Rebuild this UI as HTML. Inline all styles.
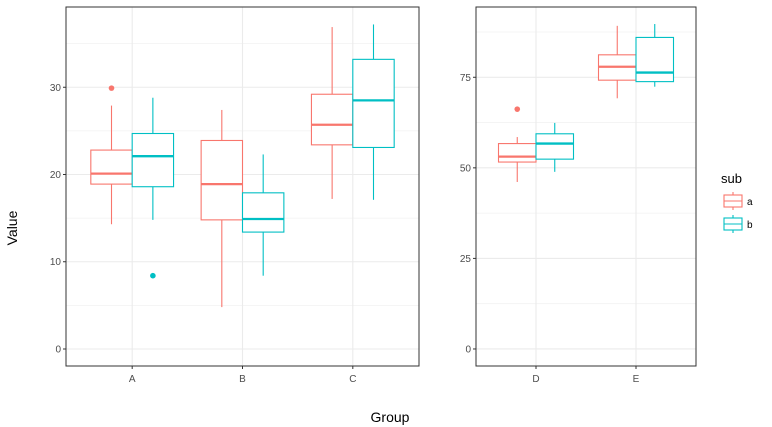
<!DOCTYPE html>
<html><head><meta charset="utf-8"><style>
body{margin:0;background:#fff;font-family:"Liberation Sans",sans-serif}
svg{display:block}
</style></head><body>
<svg id="chart" width="772" height="427"></svg>
<script>
const groups1 = ["A","B","C"];
const groups2 = ["D","E"];
const subs = ["a","b"];
// [lowWhisker, q1, median, q3, highWhisker]
const statsA = [[14.3,18.9,20.1,22.8,27.9],[14.8,18.6,22.1,24.7,28.8]];
const statsB = [[4.8,14.8,18.9,23.9,27.4],[8.4,13.4,14.9,17.9,22.3]];
const statsC = [[17.2,23.4,25.7,29.2,36.9],[17.1,23.1,28.5,33.2,37.2]];
const statsD = [[46.1,51.6,53.1,56.7,58.5],[48.9,52.4,56.7,59.4,62.4]];
const statsE = [[69.2,74.2,77.9,81.2,89.2],[72.4,73.8,76.3,86.0,89.7]];
const outliers = [["A","a",29.9],["A","b",8.4],["D","a",66.2]];
const ticks1 = [0,10,20,30];
const ticks2 = [0,25,50,75];
const colors = {a:"#F8766D", b:"#00BFC4"};
const NS="http://www.w3.org/2000/svg";
const svg=document.getElementById('chart');
function mk(t,a,p){const e=document.createElementNS(NS,t);for(const k in a)e.setAttribute(k,a[k]);(p||svg).appendChild(e);return e;}
const panels=[
 {name:"left",x0:66,x1:419,y0:7,y1:366,vmin:-1.95,vmax:39.2,groups:groups1,stats:[statsA,statsB,statsC],ticks:ticks1,minor:[5,15,25,35]},
 {name:"right",x0:476,x1:696,y0:7,y1:366,vmin:-4.7,vmax:94.4,groups:groups2,stats:[statsD,statsE],ticks:ticks2,minor:[12.5,37.5,62.5,87.5]}
];
panels.forEach(P=>{
 const n=P.groups.length;
 const band=(P.x1-P.x0)/(n+0.2);
 const xs=g=>P.x0+band*(0.6+P.groups.indexOf(g));
 const ys=v=>P.y1-(v-P.vmin)/(P.vmax-P.vmin)*(P.y1-P.y0);
 const g=mk('g',{});
 
 
 P.minor.forEach(v=>{if(v<P.vmax)mk('line',{x1:P.x0,x2:P.x1,y1:ys(v),y2:ys(v),stroke:"#f2f2f2","stroke-width":0.8},g);});
 P.ticks.forEach(v=>{
  const l=mk('line',{x1:P.x0,x2:P.x1,y1:ys(v),y2:ys(v),stroke:"#ebebeb","stroke-width":1.1},g);
  
  mk('line',{x1:P.x0-3,x2:P.x0,y1:ys(v),y2:ys(v),stroke:"#333","stroke-width":1},g);
  const t=mk('text',{x:P.x0-5,y:ys(v)+3.5,"text-anchor":"end","font-size":"10",fill:"#4d4d4d"},g);
  t.textContent=v;
 });
 P.groups.forEach(gr=>{
  const x=xs(gr);
  mk('line',{x1:x,x2:x,y1:P.y0,y2:P.y1,stroke:"#ebebeb","stroke-width":1.1},g);
  mk('line',{x1:x,x2:x,y1:P.y1,y2:P.y1+3,stroke:"#333"},g);
  const t=mk('text',{x:x,y:P.y1+16,"text-anchor":"middle","font-size":"10",fill:"#4d4d4d"},g);
  t.textContent=gr;
 });
 const bw=band*0.375;
 P.groups.forEach((gr,gi)=>{
  subs.forEach((s,si)=>{
   const st=P.stats[gi][si];
   const cx=xs(gr)+(si===0?-bw/2:bw/2);
   const c=colors[s];
   const bg=mk('g',{},g);
   
   mk('line',{x1:cx,x2:cx,y1:ys(st[0]),y2:ys(st[1]),stroke:c,"stroke-width":1.1},bg);
   mk('line',{x1:cx,x2:cx,y1:ys(st[3]),y2:ys(st[4]),stroke:c,"stroke-width":1.1},bg);
   mk('rect',{x:cx-bw/2,y:ys(st[3]),width:bw,height:ys(st[1])-ys(st[3]),fill:"#fff",stroke:c,"stroke-width":1.1},bg);
   mk('line',{x1:cx-bw/2,x2:cx+bw/2,y1:ys(st[2]),y2:ys(st[2]),stroke:c,"stroke-width":2.3},bg);
   outliers.filter(o=>o[0]===gr&&o[1]===s).forEach(o=>{
    const p=mk('circle',{cx:cx,cy:ys(o[2]),r:2.8,fill:c},bg);
    
   });
  });
 });
 mk('rect',{x:P.x0,y:P.y0,width:P.x1-P.x0,height:P.y1-P.y0,fill:"none",stroke:"#333","stroke-width":1},g);
});
let t=mk('text',{x:390,y:422,"text-anchor":"middle","font-size":"14",fill:"#000"});t.textContent="Group";

t=mk('text',{x:0,y:0,transform:"translate(17,228) rotate(-90)","text-anchor":"middle","font-size":"14",fill:"#000"});t.textContent="Value";

const lg=mk('g',{});
t=mk('text',{x:721,y:183,"font-size":"13",fill:"#000"},lg);t.textContent="sub";

subs.forEach((s,i)=>{
 const y=201+i*23,c=colors[s];
 const e=mk('g',{},lg);
 mk('line',{x1:733,x2:733,y1:y-9,y2:y+9,stroke:c,"stroke-width":1.1},e);
 mk('rect',{x:724,y:y-6,width:18,height:12,fill:"#fff",stroke:c,"stroke-width":1.1},e);
 mk('line',{x1:724,x2:742,y1:y,y2:y,stroke:c,"stroke-width":1.1},e);
 const tt=mk('text',{x:747,y:y+4,"font-size":"10",fill:"#000"},e);tt.textContent=s;
});
</script>
</body></html>
